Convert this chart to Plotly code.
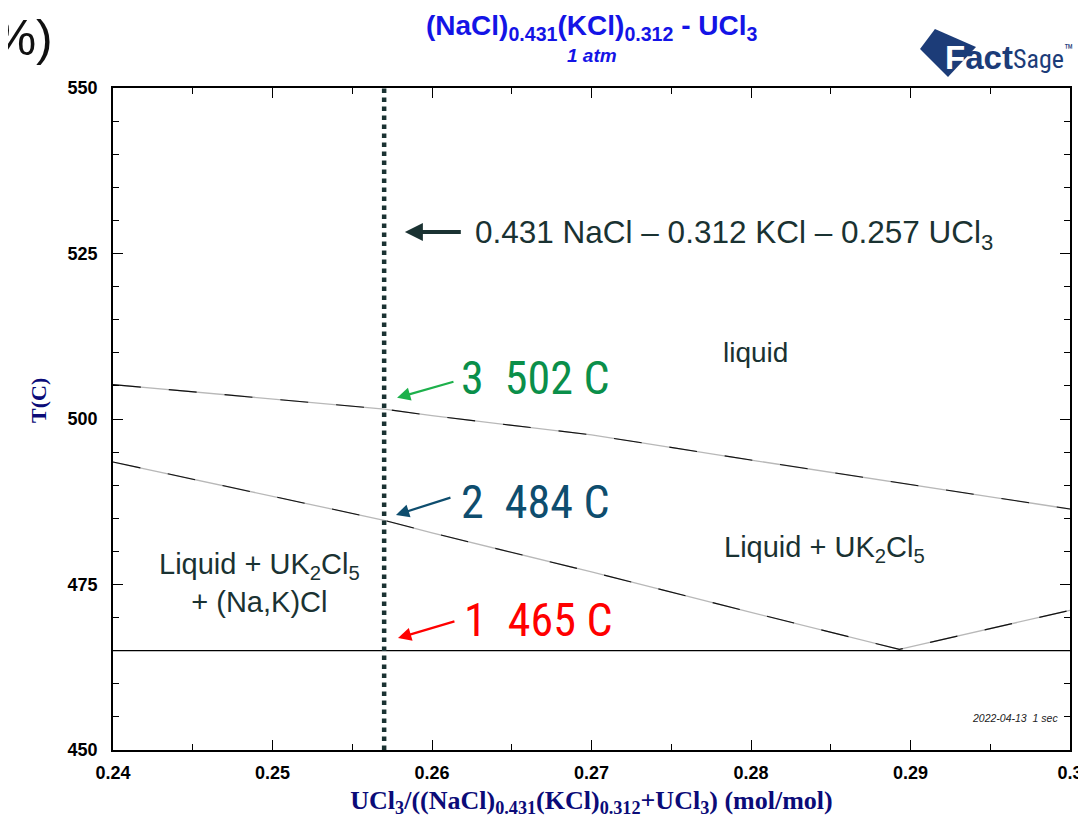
import plotly.graph_objects as go

# ---- data ----
upper_x = [0.24, 0.25, 0.257, 0.26, 0.27, 0.28, 0.29, 0.30]
upper_T = [505.2, 503.0, 501.5, 500.5, 497.6, 493.8, 490.1, 486.4]
mid_x = [0.24, 0.25, 0.257, 0.26, 0.27, 0.28, 0.2893, 0.30]
mid_T = [493.5, 488.3, 484.7, 482.8, 476.9, 470.8, 465.2, 471.1]
eut_x = [0.24, 0.30]
eut_T = [465.0, 465.0]
comp_x = 0.257
x_range = [0.24, 0.30]
T_range = [450, 550]
x_ticks = [0.24, 0.25, 0.26, 0.27, 0.28, 0.29, 0.30]
x_labels = ["0.24", "0.25", "0.26", "0.27", "0.28", "0.29", "0.3"]
y_ticks = [450, 475, 500, 525, 550]
y_labels = ["450", "475", "500", "525", "550"]

SANS = "Liberation Sans, Arial, sans-serif"
NARROW = "Liberation Sans Narrow, Roboto Condensed, Roboto, sans-serif"
SERIF = "Liberation Serif, Times New Roman, serif"
NAVY = "#0b0b78"
DARK = "#1a3232"
LOGO = "#1c3c78"

fig = go.Figure()

# phase boundary lines: gray base with black dashes (FactSage style)
for xs, ts in [(upper_x, upper_T), (mid_x, mid_T)]:
    fig.add_trace(go.Scatter(x=xs, y=ts, mode="lines",
                             line=dict(color="#b8b8b8", width=1.3),
                             hoverinfo="skip", showlegend=False))
    fig.add_trace(go.Scatter(x=xs, y=ts, mode="lines",
                             line=dict(color="#111111", width=1.1, dash="28px,28px"),
                             hoverinfo="skip", showlegend=False))
fig.add_trace(go.Scatter(x=eut_x, y=eut_T, mode="lines",
                         line=dict(color="black", width=1.2),
                         hoverinfo="skip", showlegend=False))
# composition line
fig.add_trace(go.Scatter(x=[comp_x, comp_x], y=T_range, mode="lines",
                         line=dict(color=DARK, width=4.5, dash="dot"),
                         hoverinfo="skip", showlegend=False))

ann = []
def txt(x, y, text, size, color, family=SANS, xanchor="center", **kw):
    ann.append(dict(x=x, y=y, xref="x", yref="y", text=text, showarrow=False,
                    xanchor=xanchor, yanchor="middle",
                    font=dict(size=size, color=color, family=family), **kw))

def arrow(x0, y0, x1, y1, color, width=2, size=1.0):
    ann.append(dict(x=x1, y=y1, ax=x0, ay=y0, xref="x", yref="y",
                    axref="x", ayref="y", text="", showarrow=True,
                    arrowhead=2, arrowsize=size, arrowwidth=width,
                    arrowcolor=color))

def ptxt(x, y, text, size, color, family=SANS, xanchor="center", **kw):
    ann.append(dict(x=x, y=y, xref="paper", yref="paper", text=text, showarrow=False,
                    xanchor=xanchor, yanchor="middle",
                    font=dict(size=size, color=color, family=family), **kw))

txt(0.2803, 510.1, "liquid", 28, DARK)
txt(0.2846, 480.4, "Liquid + UK<sub>2</sub>Cl<sub>5</sub>", 29, DARK)
txt(0.2492, 475.2, "Liquid + UK<sub>2</sub>Cl<sub>5</sub><br>+ (Na,K)Cl", 29, DARK)
txt(0.2626, 527.8, "0.431 NaCl – 0.312 KCl – 0.257 UCl<sub>3</sub>", 31.5, DARK, xanchor="left")
arrow(0.2619, 528.25, 0.2583, 528.25, DARK, width=4, size=0.9)

txt(0.26168, 506.2, "3  502 C", 46, "#0a8f4a", family=NARROW, xanchor="left")
arrow(0.26144, 505.7, 0.25781, 503.2, "#1db04b", width=2.2, size=1.2)
txt(0.26168, 487.5, "2  484 C", 46, "#0e4d6e", family=NARROW, xanchor="left")
arrow(0.26125, 488.2, 0.25774, 485.5, "#0e4d6e", width=2.2, size=1.2)
txt(0.26188, 469.6, "1  465 C", 46, "#ff0000", family=NARROW, xanchor="left")
arrow(0.2615, 469.5, 0.25787, 466.9, "#ff0000", width=2.2, size=1.2)

txt(0.2994, 454.8, "<i>2022-04-13  1 sec</i>", 10.5, "#222222", xanchor="right")

# title
ptxt(0.5, 1.092, "<b>(NaCl)<sub>0.431</sub>(KCl)<sub>0.312</sub> - UCl<sub>3</sub></b>", 28, "#1414e6")
ptxt(0.5, 1.049, "<b><i>1 atm</i></b>", 19, "#1414e6")
# y-axis title
ptxt(-0.0784, 0.5287, "<b>T(C)</b>", 22, NAVY, family=SERIF, textangle=-90)
# partial "(%)" at top-left edge
ptxt(-0.061, 1.075, "(%)", 50, "#111111", family="Liberation Sans, sans-serif", xanchor="right")
# FactSage logo
ptxt(0.8673, 1.0468, "<b><span style='color:white'>F</span>act</b>", 33, LOGO, xanchor="left")
ptxt(0.9384, 1.0468, "Sage<sup>™</sup>", 26, LOGO, family=NARROW, xanchor="left")

fig.update_layout(
    width=1078, height=810,
    margin=dict(l=105, r=16, t=80, b=68),
    paper_bgcolor="white", plot_bgcolor="white",
    annotations=ann,
    shapes=[dict(type="path", xref="paper", yref="paper",
                 path="M 0.8433 1.0589 L 0.8589 1.0891 L 0.9018 1.0619 L 0.8725 1.0166 Z",
                 fillcolor=LOGO, line=dict(width=0), layer="below")],
    xaxis=dict(range=x_range, showgrid=False, zeroline=False, automargin=False,
               showline=True, linecolor="black", linewidth=1.5, mirror="allticks",
               ticks="inside", ticklen=10, tickwidth=1.3, tickcolor="black",
               tickmode="array", tickvals=x_ticks, ticktext=[f"<b>{s}</b>" for s in x_labels],
               ticklabelstandoff=6,
               tickfont=dict(size=18, color="black", family=SANS),
               minor=dict(ticks="inside", ticklen=6, dtick=0.005, tick0=0.24,
                          tickcolor="black", tickwidth=1.3),
               title=dict(text="<b>UCl<sub>3</sub>/((NaCl)<sub>0.431</sub>(KCl)<sub>0.312</sub>+UCl<sub>3</sub>) (mol/mol)</b>",
                          font=dict(size=26, color=NAVY, family=SERIF), standoff=8)),
    yaxis=dict(range=T_range, showgrid=False, zeroline=False, automargin=False,
               showline=True, linecolor="black", linewidth=1.5, mirror="allticks",
               ticks="inside", ticklen=10, tickwidth=1.3, tickcolor="black",
               tickmode="array", tickvals=y_ticks, ticktext=[f"<b>{s}</b>" for s in y_labels],
               ticklabelstandoff=10,
               tickfont=dict(size=18, color="black", family=SANS),
               minor=dict(ticks="inside", ticklen=6, dtick=5, tick0=450,
                          tickcolor="black", tickwidth=1.3)),
)

fig.write_html("out.html")
